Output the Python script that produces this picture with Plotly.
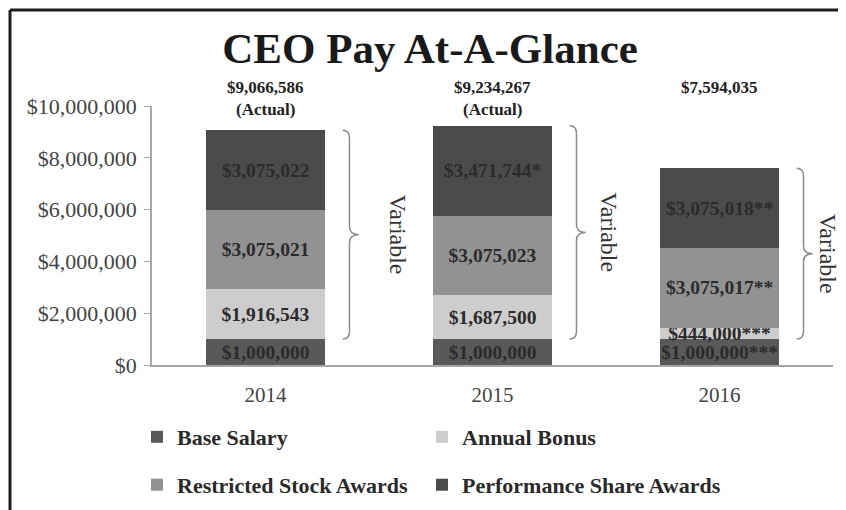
import plotly.graph_objects as go

years = ["2014", "2015", "2016"]
base_salary = [1000000, 1000000, 1000000]
annual_bonus = [1916543, 1687500, 444000]
restricted_stock = [3075021, 3075023, 3075017]
performance_share = [3075022, 3471744, 3075018]

# footnote marks shown after the bar values
base_notes = ["", "", "***"]
bonus_notes = ["", "", "***"]
restricted_notes = ["", "", "**"]
performance_notes = ["", "*", "**"]
total_notes = ["(Actual)", "(Actual)", ""]

totals = [a + b + c + d for a, b, c, d in zip(base_salary, annual_bonus, restricted_stock, performance_share)]

serif = "Liberation Serif"
xs = list(range(len(years)))

series = [
    ("Base Salary", base_salary, base_notes, "#595959", "legend"),
    ("Annual Bonus", annual_bonus, bonus_notes, "#cdcdcd", "legend2"),
    ("Restricted Stock Awards", restricted_stock, restricted_notes, "#929292", "legend3"),
    ("Performance Share Awards", performance_share, performance_notes, "#4b4b4b", "legend4"),
]

fig = go.Figure()
for name, vals, notes, color, leg in series:
    fig.add_trace(go.Bar(
        x=xs, y=vals, name=name, legend=leg,
        marker=dict(color=color, line=dict(width=0)),
        width=0.52,
        text=[f"${v:,}{n}" for v, n in zip(vals, notes)],
        textposition="inside", insidetextanchor="middle",
        constraintext="none", textangle=0,
        textfont=dict(family=serif, size=19.5, color="#2b2b2b", weight="bold"),
        hoverinfo="skip",
    ))

shapes = []
annotations = []
r = 300000
for i, x in enumerate(xs):
    top, bot = totals[i], base_salary[i]
    mid = (top + bot) / 2
    x0, x1, x2 = x + 0.34, x + 0.37, x + 0.41
    path = (f"M {x0},{top} Q {x1},{top} {x1},{top - r} L {x1},{mid + r} "
            f"Q {x1},{mid} {x2},{mid} Q {x1},{mid} {x1},{mid - r} "
            f"L {x1},{bot + r} Q {x1},{bot} {x0},{bot}")
    shapes.append(dict(type="path", path=path, xref="x", yref="y",
                       line=dict(color="#8c8c8c", width=1.5)))
    var_off = [0.584, 0.51, 0.478][i]
    annotations.append(dict(x=x + var_off, y=mid, xref="x", yref="y", text="Variable",
                            textangle=90, showarrow=False,
                            font=dict(family=serif, size=24, color="#333333")))
    annotations.append(dict(x=x, y=1.0695, xref="x", yref="paper", text=f"${top:,}",
                            showarrow=False, yanchor="middle",
                            font=dict(family=serif, size=17, color="#222222", weight="bold")))
    if total_notes[i]:
        annotations.append(dict(x=x, y=0.988, xref="x", yref="paper", text=total_notes[i],
                                showarrow=False, yanchor="middle",
                                font=dict(family=serif, size=17, color="#222222", weight="bold")))

# frame lines top and left
shapes.append(dict(type="line", xref="paper", yref="paper", x0=-0.2085, x1=1.05, y0=1.3707, y1=1.3707,
                   line=dict(color="#1e1e1e", width=3)))
shapes.append(dict(type="line", xref="paper", yref="paper", x0=-0.2085, x1=-0.2085, y0=1.3707, y1=-0.6,
                   line=dict(color="#1e1e1e", width=3)))

legend_style = dict(orientation="h", xanchor="left", yanchor="middle",
                    font=dict(family=serif, size=22, color="#2a2a2a", weight="bold"),
                    bgcolor="rgba(0,0,0,0)")

# page body adds an 8px margin, so the figure is 8px smaller than the window
fig.update_layout(
    barmode="stack",
    width=838, height=502,
    margin=dict(l=144, r=13, t=98, b=145, autoexpand=False),
    paper_bgcolor="white", plot_bgcolor="white",
    title=dict(text="CEO Pay At-A-Glance", x=0.5036, y=0.9203, xanchor="center", yanchor="middle",
               font=dict(family=serif, size=43, color="#1a1a1a", weight="bold")),
    legend=dict(legend_style, x=-0.022, y=-0.278),
    legend2=dict(legend_style, x=0.3965, y=-0.278),
    legend3=dict(legend_style, x=-0.022, y=-0.463),
    legend4=dict(legend_style, x=0.3965, y=-0.463),
    shapes=shapes,
    annotations=annotations,
    showlegend=True,
)

fig.update_xaxes(range=[-0.5, 2.5], tickvals=xs, ticktext=years, showgrid=False, zeroline=False,
                 showline=True, linecolor="#a6a6a6", linewidth=1.5, ticks="", ticklabelstandoff=10,
                 tickfont=dict(family=serif, size=21, color="#444444"), fixedrange=True)
fig.update_yaxes(range=[0, 10000000], dtick=2000000, tickprefix="$", tickformat=",d",
                 showgrid=False, zeroline=False, showline=True, linecolor="#a6a6a6", linewidth=1.5,
                 ticks="outside", ticklen=6, tickcolor="#a6a6a6", ticklabelstandoff=3,
                 tickfont=dict(family=serif, size=22, color="#444444"), fixedrange=True)

fig.write_html("out.html")
